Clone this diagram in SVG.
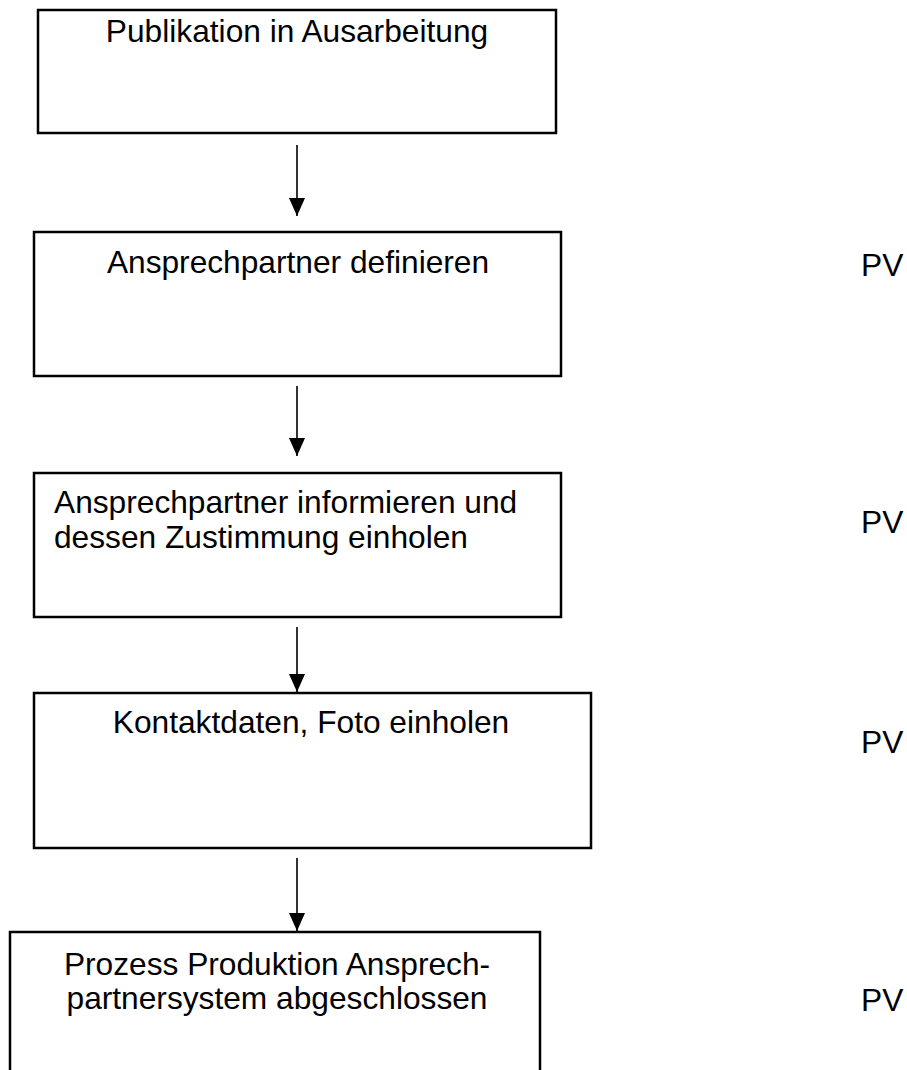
<svg xmlns="http://www.w3.org/2000/svg" width="907" height="1070" viewBox="0 0 907 1070">
<style>
.box{fill:#fff;stroke:#000;stroke-width:2.5}
.t{font-family:"Liberation Sans",Arial,sans-serif;font-size:31.7px;fill:#000}
.c{text-anchor:middle}
.ln{stroke:#000;stroke-width:1.6;fill:none}
</style>
<defs>
<marker id="ah" markerWidth="18" markerHeight="16" refX="18" refY="8" orient="auto" markerUnits="userSpaceOnUse" viewBox="0 0 18 16">
<path d="M0,0 L18,8 L0,16 Z" fill="#000"/>
</marker>
</defs>
<rect width="907" height="1070" fill="#fff"/>
<g id="connectors">
<line class="ln" x1="297" y1="145" x2="297" y2="216" marker-end="url(#ah)"/>
<line class="ln" x1="297" y1="386" x2="297" y2="456" marker-end="url(#ah)"/>
<line class="ln" x1="297" y1="627" x2="297" y2="692" marker-end="url(#ah)"/>
<line class="ln" x1="297" y1="858" x2="297" y2="931" marker-end="url(#ah)"/>
</g>
<g id="n1">
<rect class="box" x="38" y="10" width="518" height="123"/>
<text class="t c" x="297" y="42">Publikation in Ausarbeitung</text>
</g>
<g id="n2">
<rect class="box" x="34" y="232" width="527" height="144"/>
<text class="t c" x="298" y="273">Ansprechpartner definieren</text>
<text class="t" x="861" y="276">PV</text>
</g>
<g id="n3">
<rect class="box" x="34" y="473" width="527" height="144"/>
<text class="t" x="54" y="513">Ansprechpartner informieren und</text>
<text class="t" x="54" y="548">dessen Zustimmung einholen</text>
<text class="t" x="861" y="533">PV</text>
</g>
<g id="n4">
<rect class="box" x="34" y="693" width="557" height="155"/>
<text class="t c" x="311" y="733">Kontaktdaten, Foto einholen</text>
<text class="t" x="861" y="753">PV</text>
</g>
<g id="n5">
<rect class="box" x="10" y="932" width="530" height="150"/>
<text class="t c" x="277" y="975">Prozess Produktion Ansprech-</text>
<text class="t c" x="277" y="1009">partnersystem abgeschlossen</text>
<text class="t" x="861" y="1011">PV</text>
</g>
</svg>
